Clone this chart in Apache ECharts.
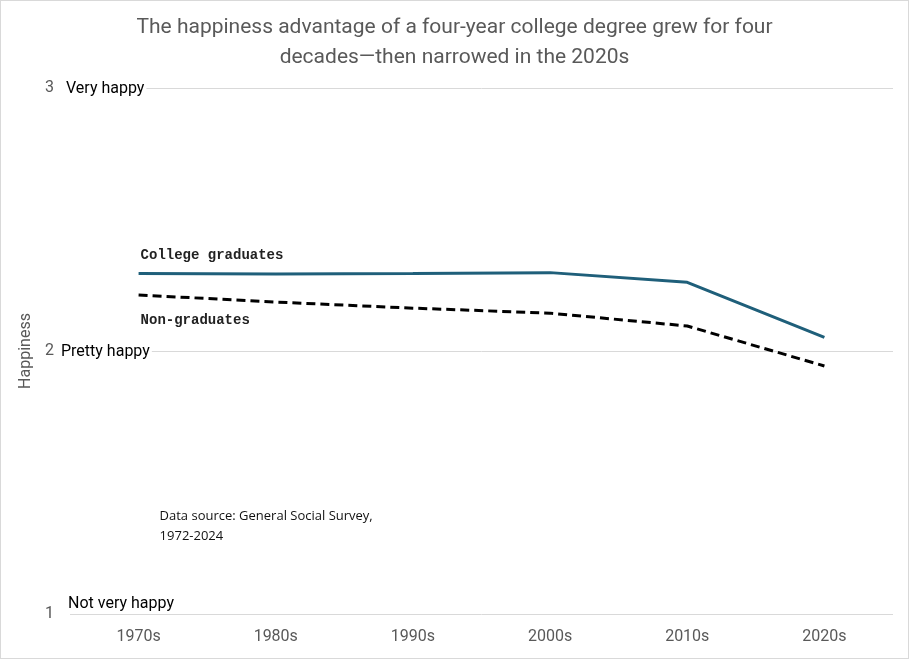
<!DOCTYPE html>
<html>
<head>
<meta charset="utf-8">
<script src="https://cdn.jsdelivr.net/npm/echarts@6/dist/echarts.min.js"></script>
<style>
  html, body { margin: 0; padding: 0; background: #fff; }
  #chart { width: 907px; height: 657px; border: 1px solid #d9d9d9; }
</style>
</head>
<body>
<div id="chart"></div>
<script>
// 年代分类
const decades = ['1970s', '1980s', '1990s', '2000s', '2010s', '2020s'];
// 大学毕业生幸福度
const collegeGrads = [2.295, 2.293, 2.295, 2.298, 2.261, 2.052];
// 非大学毕业生幸福度
const nonGrads = [2.213, 2.186, 2.163, 2.144, 2.095, 1.943];
// 纵轴刻度含义
const levelNames = { 3: 'Very happy', 2: 'Pretty happy', 1: 'Not very happy' };

const chart = echarts.init(document.getElementById('chart'));
const gray = '#595959';
const narrow = '"Liberation Sans Narrow", "Roboto", sans-serif';

chart.setOption({
    animation: false,
    title: {
        text: 'The happiness advantage of a four-year college degree grew for four\ndecades\u2014then narrowed in the 2020s',
        left: 'center',
        top: 7,
        textStyle: { fontFamily: narrow, fontSize: 21, fontWeight: 'normal', color: gray, lineHeight: 30 }
    },
    grid: { left: 69, right: 15, top: 87, bottom: 44, outerBoundsMode: 'none' },
    xAxis: {
        type: 'category',
        data: decades,
        axisLine: { show: false },
        axisTick: { show: false },
        axisLabel: { color: gray, fontFamily: narrow, fontSize: 16, margin: 15 }
    },
    yAxis: {
        type: 'value',
        min: 1,
        max: 3,
        interval: 1,
        name: 'Happiness',
        nameLocation: 'middle',
        nameGap: 32,
        nameTextStyle: { color: gray, fontFamily: narrow, fontSize: 16 },
        axisLabel: { color: gray, fontFamily: narrow, fontSize: 16, margin: 16 },
        splitLine: { lineStyle: { color: '#d9d9d9', width: 1 } }
    },
    series: [
        {
            name: 'College graduates',
            type: 'line',
            data: collegeGrads,
            symbol: 'none',
            lineStyle: { color: '#1f5f7a', width: 3 }
        },
        {
            name: 'Non-graduates',
            type: 'line',
            data: nonGrads,
            symbol: 'none',
            lineStyle: { color: '#000', width: 3, type: [9, 5] }
        }
    ]
});

// 用坐标换算放置注释文字
const px = (x, y) => chart.convertToPixel({ gridIndex: 0 }, [x, y]);
const graphics = [];
[[3, -6], [2, -11]].forEach(([v, dx]) => {
    const p = px(0, v);
    graphics.push({
        type: 'text', x: 69 + dx, y: p[1] - 8,
        style: { text: levelNames[v], font: '16px ' + narrow, fill: '#000',
                 backgroundColor: '#fff', padding: [1, 2] }
    });
});
const p1 = px(0, 1);
graphics.push({
    type: 'text', x: 67, y: p1[1] - 18,
    style: { text: levelNames[1], font: '16px ' + narrow, fill: '#000' }
});
const c0 = px(0, collegeGrads[0]);
graphics.push({
    type: 'text', x: c0[0] + 2, y: c0[1] - 25,
    style: { text: 'College graduates', font: 'bold 14px "Liberation Mono", monospace', fill: '#222' }
});
const n0 = px(0, nonGrads[0]);
graphics.push({
    type: 'text', x: n0[0] + 2, y: n0[1] + 18,
    style: { text: 'Non-graduates', font: 'bold 14px "Liberation Mono", monospace', fill: '#222' }
});
const s = px(0, 1.41);
graphics.push({
    type: 'text', x: s[0] + 21, y: s[1],
    style: { text: 'Data source: General Social Survey,\n1972-2024', font: '13px "Open Sans", sans-serif',
             fill: '#111', lineHeight: 20 }
});
chart.setOption({ graphic: graphics });
</script>
</body>
</html>
